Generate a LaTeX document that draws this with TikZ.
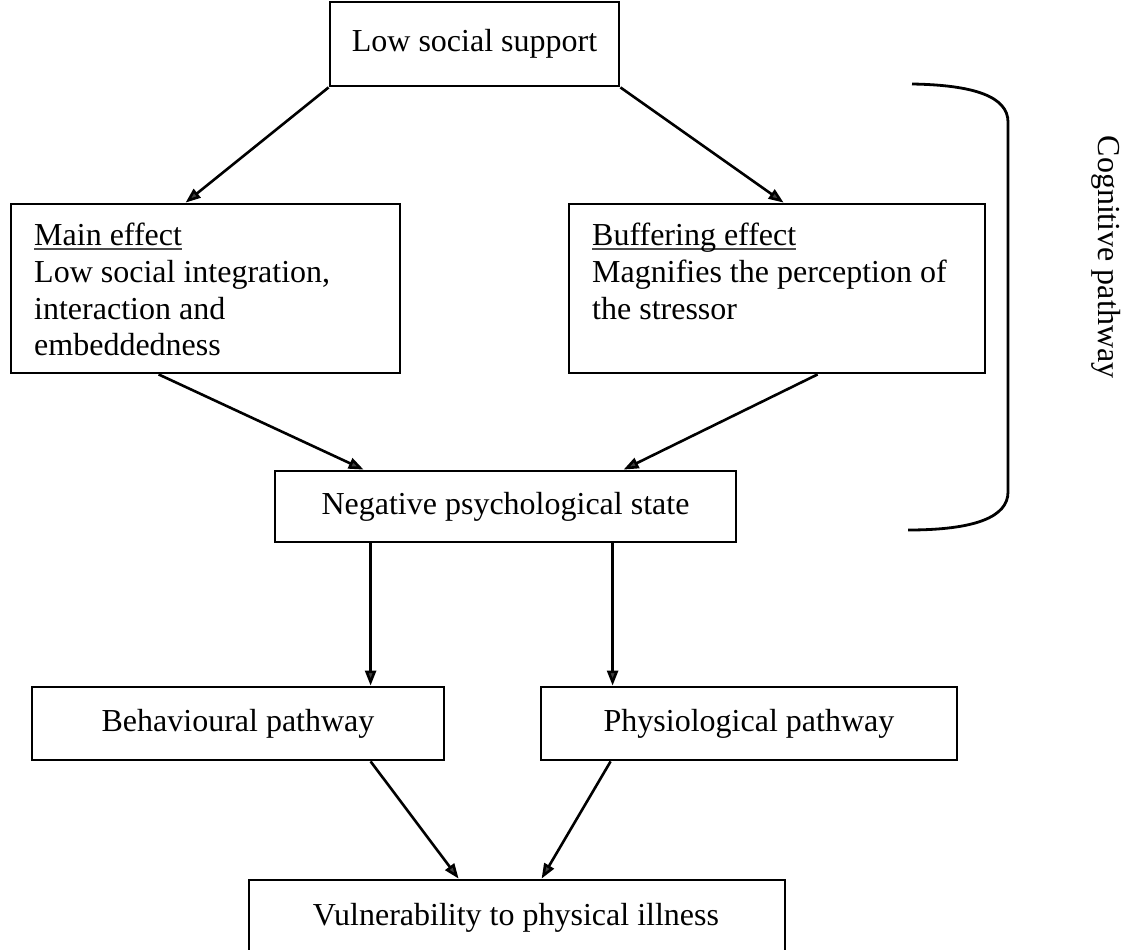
\documentclass[tikz,border=0pt]{standalone}
\usepackage{fontspec}
\setmainfont{Liberation Serif}
\usetikzlibrary{arrows.meta}

\newcommand\bodyfont{\fontsize{32}{36.7}\selectfont}
% underline drawn at a fixed depth below the baseline
\newcommand\uln[1]{\setbox0\hbox{#1}\rlap{\color{black!70}\rule[-0.12em]{\wd0}{0.045em}}\box0}

\tikzset{
  box/.style={draw, line width=2.8pt, inner sep=0pt, font=\bodyfont},
  txt/.style={inner sep=0pt, font=\bodyfont},
  arr/.style={-{Triangle[length=15pt,width=11pt,fill=black!75]}, line width=2.6pt},
}

\begin{document}
\begin{tikzpicture}[x=1pt, y=-1pt]
\useasboundingbox (0,0) rectangle (1132,950);
\clip (0,0) rectangle (1132,950);

% boxes
\node[box, minimum width=289, minimum height=84] (sup) at (474.5,44) {Low social support};

\node[box, minimum width=389, minimum height=169] (main) at (205.5,288.5) {};
\node[txt, anchor=north west, align=left] (maintext) at (34,223)
  {\uln{Main effect}\\Low social integration,\\interaction and\\embeddedness};

\node[box, minimum width=416, minimum height=169] (buff) at (777,288.5) {};
\node[txt, anchor=north west, align=left] (bufftext) at (592,223)
  {\uln{Buffering effect}\\Magnifies the perception of\\the stressor};

\node[box, minimum width=461, minimum height=71] (neg) at (505.5,506.5) {Negative psychological state};

\node[box, minimum width=412, minimum height=73] (beh) at (238,723.5) {Behavioural pathway};
\node[box, minimum width=416, minimum height=73] (phy) at (749,723.5) {Physiological pathway};

\node[box, minimum width=536, minimum height=200] (vul) at (517,980) {};
\node[txt, anchor=base] (vultext) at (516,925) {Vulnerability to physical illness};

% bracket and its label
\draw[line width=2.8pt] (912,84) .. controls (975,85) and (1008,97) .. (1008,122)
  -- (1008,492) .. controls (1008,517) and (975,530) .. (908,530);
\node[txt, rotate=-90] (cog) at (1106,257) {Cognitive pathway};

% connectors
\draw[arr] (sup.south west) -- ([xshift=176pt]main.north west);
\draw[arr] (sup.south east) -- ([xshift=216pt]buff.north west);
\draw[arr] ([xshift=149pt]main.south west) -- ([xshift=90pt]neg.north west);
\draw[arr] ([xshift=250pt]buff.south west) -- ([xshift=350pt]neg.north west);
\draw[arr] ([xshift=97pt]neg.south west) -- ([xshift=340pt]beh.north west);
\draw[arr] ([xshift=339pt]neg.south west) -- ([xshift=73pt]phy.north west);
\draw[arr] ([xshift=340pt]beh.south west) -- ([xshift=211pt]vul.north west);
\draw[arr] ([xshift=71pt]phy.south west) -- ([xshift=294pt]vul.north west);
\end{tikzpicture}
\end{document}
